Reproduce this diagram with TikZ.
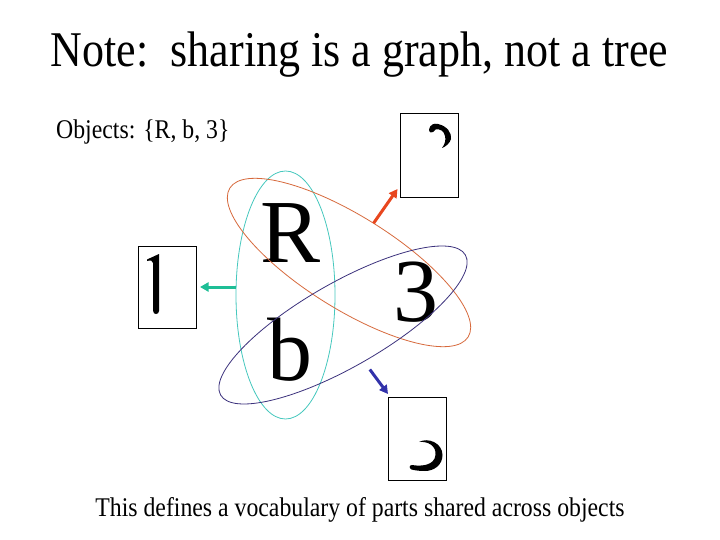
\documentclass[tikz,border=0pt]{standalone}
\usepackage{fontspec}
\setmainfont{Liberation Serif}
\usetikzlibrary{shapes.geometric,arrows.meta,calc}
\definecolor{cyanell}{RGB}{70,200,190}
\definecolor{orangeell}{RGB}{215,105,60}
\definecolor{blueell}{RGB}{60,50,125}
\definecolor{cyanarr}{RGB}{30,190,150}
\definecolor{redarr}{RGB}{232,70,30}
\definecolor{bluearr}{RGB}{50,50,170}
\begin{document}
\begin{tikzpicture}[x=1pt,y=-1pt,
  partbox/.style={draw=black, line width=0.8pt, inner sep=0, outer sep=0},
  group/.style={ellipse, draw, line width=0.8pt, inner sep=0, outer sep=0},
  bigletter/.style={anchor=base west, inner sep=0, font=\fontsize{90}{90}\selectfont},
  txt/.style={inner sep=0, font=\fontsize{27}{30}\selectfont},
  link/.style={line width=3pt, -{Triangle[length=8.5pt,width=9pt]}},
  glyph/.style={fill=black, draw=none}]
\fill[white] (0,0) rectangle (720,540);
\useasboundingbox (0,0) rectangle (720,540);

% texts
\node[inner sep=0, anchor=base, font=\fontsize{50}{55}\selectfont] (title) at (359.5,67)
  {\scalebox{0.88}[1]{Note:\ \ sharing is a graph, not a tree}};
\node[txt, anchor=base west] (objects) at (56,139) {\scalebox{0.88}[1]{Objects: \{R, b, 3\}}};
\node[txt, anchor=base] (caption) at (360,516)
  {\scalebox{0.88}[1]{This defines a vocabulary of parts shared across objects}};

% big letters
\node[bigletter] (R) at (260.5,262) {R};
\node[bigletter] (b) at (267,380) {b};
\node[bigletter] (three) at (393,321) {3};

% groups (ellipses)
\node[group, draw=cyanell, minimum width=99pt, minimum height=248pt] (cyan) at (285.5,295) {};
\node[group, draw=orangeell, minimum width=281pt, minimum height=92.6pt, rotate=-32] (orange) at (349,262.5) {};
\node[group, draw=blueell, minimum width=282pt, minimum height=84pt, rotate=29.8] (blue) at (343,325) {};

% part boxes
\node[partbox, minimum width=58pt, minimum height=82pt] (lbox) at (167,287) {};
\node[partbox, minimum width=58pt, minimum height=84pt] (tbox) at (429,155) {};
\node[partbox, minimum width=58pt, minimum height=83pt] (bbox) at (417,438.5) {};

% part glyphs
\fill[glyph] (147,259.5) -- (159,254) -- (159,311)
  .. controls (159,313) and (157.5,314) .. (156,314)
  .. controls (154.5,314) and (153,313) .. (153,310.5)
  -- (153,263) .. controls (153,260.5) and (150.5,260) .. (147,261) -- cycle;
\fill[glyph] (429,129.5) .. controls (430,124.5) and (434,123) .. (438,124)
  .. controls (447,126) and (452,133) .. (451,139)
  .. controls (450,143) and (446,146.5) .. (442,148)
  .. controls (445,144) and (446,140) .. (445,136)
  .. controls (444,131) and (440,128.5) .. (435.5,129.5)
  .. controls (434.5,131.5) and (432,133) .. (430.5,132.5)
  .. controls (429.5,132) and (429,131) .. (429,129.5) -- cycle;
\fill[glyph] (419,442) .. controls (428,437) and (442.5,443) .. (442.5,455)
  .. controls (442.5,465) and (434,471) .. (425,471)
  .. controls (420,471) and (415,470.5) .. (411.5,469.5)
  .. controls (409,468.5) and (409,465) .. (412,465)
  .. controls (420,466.5) and (434.5,466) .. (435.5,455)
  .. controls (436.5,446) and (428,441) .. (419,442) -- cycle;

% links
\coordinate (rtip) at ($(tbox.south west)+(-2.5,-8)$);
\coordinate (btip) at ($(bbox.north west)+(0,-3)$);
\draw[link, cyanarr, shorten >=4pt] (lbox.east -| cyan.west) -- (lbox.east);
\draw[link, redarr] (orange.north) -- (rtip);
\draw[link, bluearr, shorten <=10pt] (blue.south) -- (btip);
\end{tikzpicture}
\end{document}
